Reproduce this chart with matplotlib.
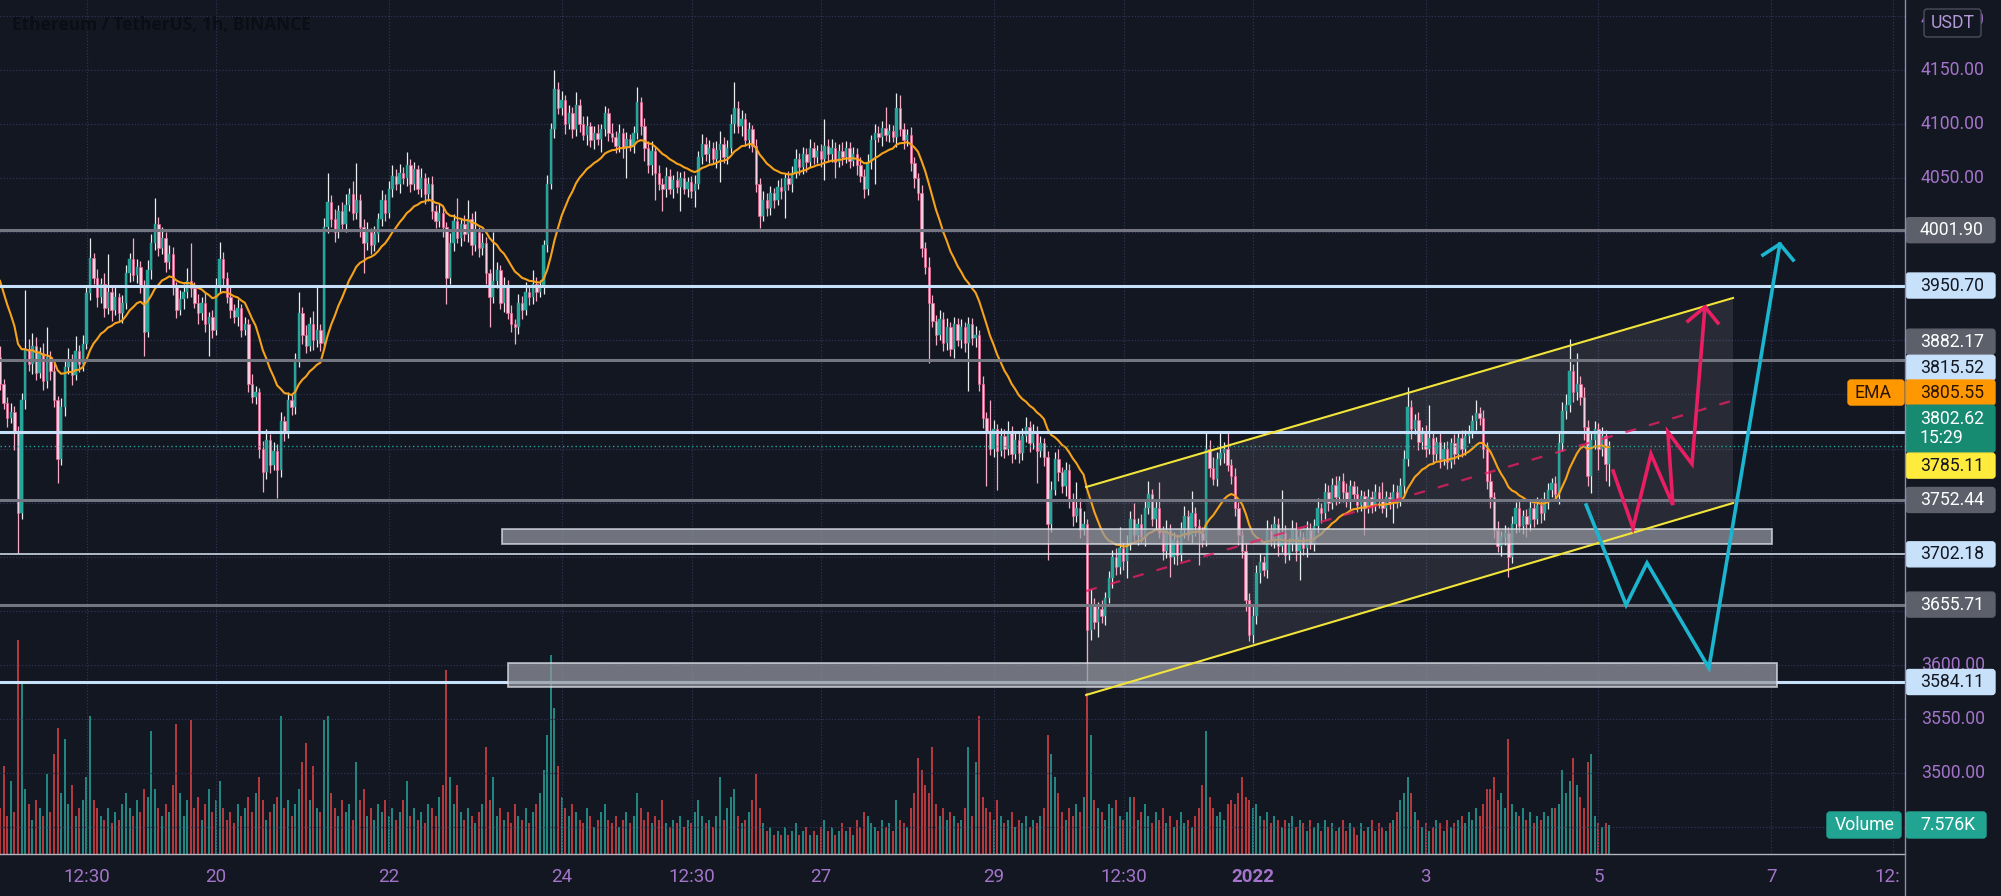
import numpy as np
import pandas as pd
import matplotlib
matplotlib.use('Agg')
import matplotlib.pyplot as plt
from matplotlib.patches import Rectangle, Polygon, FancyBboxPatch
from matplotlib.lines import Line2D
from matplotlib.transforms import IdentityTransform, blended_transform_factory

# ETHUSDT 1h candles, index 0 = Dec 17 12:00, index 60 = Dec 20 00:00
first_open = 3885
closes = [
    3860, 3842, 3828, 3834, 3814, 3740, 3845, 3892, 3878, 3895, 3870, 3888,
    3862, 3885, 3872, 3845, 3790, 3838, 3875, 3882, 3868, 3890, 3878, 3897,
    3944, 3976, 3958, 3940, 3952, 3930, 3945, 3928, 3940, 3925, 3935, 3962,
    3975, 3960, 3968, 3950, 3908, 3965, 3990, 4008, 3985, 3995, 3972, 3980,
    3950, 3928, 3938, 3945, 3955, 3948, 3935, 3925, 3935, 3915, 3922, 3910,
    3950, 3975, 3958, 3940, 3928, 3922, 3930, 3910, 3915, 3860, 3848, 3852,
    3800, 3778, 3808, 3785, 3798, 3780, 3825, 3815, 3845, 3838, 3880, 3925,
    3905, 3895, 3915, 3900, 3910, 3898, 4005, 4028, 4012, 4000, 4020, 4008,
    4025, 4035, 4018, 4030, 4005, 3990, 4000, 3988, 3998, 4012, 4030, 4018,
    4040, 4052, 4045, 4055, 4050, 4062, 4045, 4058, 4040, 4050, 4035, 4045,
    4020, 4010, 4018, 4005, 3958, 3990, 4010, 3995, 4008, 3998, 4012, 3988,
    4000, 3985, 3990, 3962, 3940, 3955, 3965, 3935, 3950, 3925, 3915, 3912,
    3935, 3928, 3945, 3940, 3952, 3945, 3950, 3988, 4045, 4095, 4132, 4115,
    4122, 4100, 4110, 4095, 4118, 4100, 4090, 4098, 4085, 4092, 4086, 4095,
    4110, 4092, 4088, 4080, 4092, 4078, 4086, 4080, 4092, 4120, 4098, 4078,
    4062, 4075, 4055, 4045, 4040, 4052, 4040, 4048, 4042, 4050, 4040, 4046,
    4038, 4045, 4070, 4082, 4072, 4078, 4068, 4076, 4082, 4070, 4078, 4100,
    4115, 4098, 4105, 4085, 4095, 4080, 4045, 4015, 4030, 4022, 4036, 4030,
    4042, 4038, 4050, 4045, 4055, 4068, 4060, 4072, 4065, 4078, 4070, 4075,
    4068, 4080, 4072, 4078, 4065, 4075, 4070, 4078, 4066, 4072, 4062, 4052,
    4040, 4065, 4085, 4092, 4088, 4096, 4090, 4094, 4088, 4115, 4095, 4085,
    4090, 4064, 4050, 4036, 3985, 3968, 3935, 3918, 3905, 3920, 3898, 3912,
    3892, 3915, 3900, 3912, 3898, 3915, 3902, 3905, 3860, 3828, 3815, 3800,
    3818, 3798, 3812, 3800, 3816, 3795, 3808, 3796, 3812, 3820, 3805, 3815,
    3798, 3805, 3792, 3730, 3762, 3790, 3778, 3765, 3780, 3752, 3738, 3745,
    3725, 3730, 3632, 3655, 3640, 3652, 3645, 3662, 3680, 3700, 3690, 3708,
    3696, 3712, 3735, 3720, 3730, 3718, 3745, 3758, 3735, 3745, 3722, 3705,
    3725, 3700, 3715, 3702, 3725, 3738, 3720, 3740, 3728, 3722, 3715, 3800,
    3782, 3772, 3790, 3796, 3800, 3785, 3775, 3745, 3720, 3705, 3660, 3628,
    3645, 3685, 3695, 3688, 3725, 3715, 3730, 3710, 3722, 3702, 3712, 3726,
    3705, 3718, 3708, 3725, 3712, 3728, 3745, 3740, 3760, 3750, 3766, 3755,
    3770, 3760, 3752, 3765, 3758, 3748, 3756, 3745, 3755, 3748, 3760, 3752,
    3745, 3755, 3750, 3760, 3752, 3765, 3790, 3838, 3818, 3826, 3806, 3815,
    3800, 3810, 3795, 3806, 3790, 3800, 3788, 3805, 3795, 3810, 3800, 3812,
    3815, 3825, 3833, 3828, 3800, 3770, 3755, 3725, 3710, 3718, 3722, 3700,
    3730, 3745, 3728, 3738, 3730, 3745, 3735, 3748, 3740, 3752, 3762, 3768,
    3758, 3805, 3835, 3840, 3872, 3852, 3860, 3848, 3820, 3775, 3808, 3818,
    3800, 3812, 3786, 3802.62,
]
# wick lengths above / below the body (USDT)
wick_up = [
    10, 4, 6, 8, 5, 7, 6, 55, 9, 12, 8, 6, 10, 27, 5, 7, 4, 9, 6, 11, 5, 14, 6, 8,
    7, 19, 5, 8, 6, 10, 35, 5, 9, 4, 7, 8, 6, 20, 7, 5, 6, 9, 8, 24, 6, 10, 5, 8,
    6, 4, 9, 7, 12, 35, 6, 8, 5, 9, 4, 6, 8, 16, 7, 5, 9, 6, 8, 4, 7, 5, 9, 6,
    4, 7, 10, 5, 8, 6, 9, 5, 7, 6, 8, 20, 6, 9, 7, 12, 40, 5, 8, 27, 6, 9, 5, 8,
    10, 6, 12, 34, 5, 7, 9, 4, 8, 6, 9, 5, 7, 10, 6, 8, 5, 12, 6, 7, 4, 9, 5, 6,
    7, 5, 8, 6, 4, 9, 7, 22, 5, 8, 18, 6, 20, 5, 9, 6, 4, 45, 7, 5, 9, 6, 8, 5,
    8, 6, 9, 5, 13, 7, 6, 5, 8, 6, 18, 7, 9, 5, 8, 6, 12, 5, 7, 9, 4, 6, 8, 5,
    7, 5, 9, 6, 8, 4, 7, 5, 6, 14, 5, 8, 6, 9, 4, 7, 5, 8, 6, 5, 9, 6, 7, 5,
    6, 8, 5, 9, 6, 7, 5, 8, 12, 6, 7, 9, 24, 6, 8, 5, 7, 4, 6, 5, 8, 6, 7, 5,
    6, 8, 5, 7, 6, 9, 5, 7, 6, 8, 5, 6, 7, 25, 6, 8, 5, 7, 8, 6, 5, 7, 6, 8,
    6, 7, 5, 8, 6, 7, 20, 6, 5, 14, 12, 6, 5, 7, 6, 5, 8, 6, 9, 7, 5, 8, 6, 9,
    5, 7, 6, 8, 5, 7, 6, 8, 5, 7, 6, 30, 8, 5, 7, 6, 9, 5, 8, 6, 7, 9, 5, 8,
    6, 7, 5, 6, 8, 7, 10, 5, 8, 6, 7, 24, 9, 12, 5, 15, 7, 6, 8, 5, 7, 6, 8, 19,
    6, 8, 7, 15, 6, 9, 7, 12, 5, 8, 24, 6, 9, 5, 8, 6, 7, 9, 5, 21, 6, 7, 5, 15,
    8, 10, 7, 19, 6, 14, 5, 7, 6, 5, 8, 6, 9, 7, 8, 6, 9, 5, 8, 6, 40, 7, 5, 8,
    6, 7, 5, 8, 6, 7, 9, 5, 8, 6, 7, 9, 5, 7, 8, 6, 5, 7, 6, 5, 8, 6, 7, 5,
    17, 6, 5, 7, 6, 8, 9, 19, 7, 6, 8, 5, 7, 30, 6, 5, 8, 6, 7, 5, 8, 6, 7, 5,
    7, 6, 12, 5, 8, 6, 7, 5, 8, 6, 7, 5, 8, 6, 7, 5, 6, 8, 5, 7, 6, 8, 6, 5,
    7, 9, 8, 10, 29, 6, 28, 7, 9, 6, 8, 7, 6, 8, 5, 4,
]
wick_dn = [
    6, 5, 8, 4, 15, 37, 5, 8, 6, 9, 7, 5, 8, 6, 9, 7, 22, 5, 8, 6, 9, 5, 7, 6,
    5, 7, 6, 9, 5, 8, 6, 10, 5, 7, 9, 6, 8, 5, 7, 6, 22, 5, 8, 6, 7, 5, 9, 6,
    8, 7, 5, 9, 6, 8, 5, 10, 6, 7, 29, 8, 5, 6, 8, 5, 7, 6, 9, 7, 5, 8, 6, 7,
    9, 18, 6, 8, 5, 26, 6, 8, 5, 7, 6, 5, 8, 7, 5, 9, 6, 8, 5, 6, 7, 9, 5, 6,
    8, 5, 7, 6, 9, 28, 6, 8, 5, 7, 6, 8, 5, 7, 6, 9, 5, 7, 8, 6, 5, 7, 9, 6,
    8, 6, 5, 9, 24, 6, 7, 5, 8, 6, 7, 9, 5, 8, 6, 10, 28, 5, 7, 6, 9, 5, 7, 15,
    6, 8, 5, 7, 6, 9, 5, 7, 6, 5, 8, 6, 7, 9, 5, 8, 6, 7, 5, 9, 6, 8, 5, 12,
    6, 8, 5, 7, 6, 9, 28, 5, 7, 6, 8, 12, 7, 9, 25, 6, 20, 7, 5, 8, 6, 22, 5, 7,
    6, 15, 5, 7, 6, 8, 5, 9, 30, 6, 7, 5, 8, 6, 9, 5, 7, 6, 8, 11, 5, 7, 6, 8,
    5, 7, 25, 6, 8, 5, 7, 6, 9, 5, 7, 6, 8, 20, 6, 7, 15, 5, 8, 6, 7, 5, 9, 6,
    8, 6, 7, 40, 5, 8, 6, 7, 5, 9, 6, 8, 5, 7, 9, 6, 8, 7, 56, 6, 9, 5, 8, 7,
    6, 8, 5, 7, 9, 45, 6, 8, 7, 9, 50, 6, 8, 36, 5, 9, 6, 8, 5, 9, 7, 6, 8, 5,
    30, 6, 8, 33, 7, 5, 8, 6, 9, 7, 10, 6, 8, 5, 48, 9, 7, 14, 6, 8, 5, 9, 7, 6,
    8, 16, 6, 7, 9, 5, 8, 6, 7, 9, 5, 8, 6, 19, 7, 10, 6, 8, 5, 7, 9, 30, 6, 5,
    8, 6, 7, 5, 9, 6, 8, 7, 9, 6, 10, 6, 8, 7, 9, 6, 8, 5, 7, 9, 6, 8, 5, 7,
    9, 27, 6, 8, 5, 7, 6, 9, 5, 8, 6, 7, 5, 9, 6, 8, 5, 7, 6, 25, 5, 8, 6, 7,
    5, 8, 6, 19, 7, 5, 8, 6, 9, 5, 7, 6, 8, 5, 9, 6, 8, 5, 7, 6, 9, 5, 8, 6,
    7, 5, 8, 6, 9, 7, 10, 8, 6, 9, 7, 19, 6, 8, 5, 7, 12, 6, 8, 5, 9, 6, 8, 7,
    6, 9, 7, 8, 6, 9, 7, 8, 12, 10, 16, 8, 20, 7, 16, 21,
]
# volume in thousands of ETH
volume_k = [
    12, 23, 10, 19, 11, 56, 45, 17, 13, 9, 14, 12, 10, 21, 11, 26, 33, 16, 30, 13, 18, 10, 12, 14,
    20, 36, 14, 12, 10, 9, 12, 8, 11, 9, 13, 16, 12, 10, 14, 11, 17, 15, 32, 17, 12, 10, 13, 11,
    18, 34, 16, 10, 14, 35, 12, 15, 9, 13, 17, 11, 14, 19, 12, 9, 11, 8, 13, 10, 12, 15, 11, 16,
    20, 14, 9, 11, 13, 15, 36, 12, 14, 10, 13, 17, 24, 29, 14, 23, 12, 11, 35, 36, 16, 12, 10, 14,
    11, 13, 9, 24, 14, 17, 10, 12, 9, 13, 11, 14, 10, 12, 9, 11, 14, 19, 10, 12, 9, 11, 8, 13,
    12, 10, 15, 18, 48, 20, 13, 18, 11, 9, 12, 10, 8, 11, 13, 28, 14, 20, 10, 12, 9, 11, 8, 13,
    10, 9, 12, 8, 11, 13, 16, 22, 31, 52, 38, 23, 15, 12, 10, 13, 11, 9, 8, 12, 10, 7, 9, 11,
    13, 9, 8, 10, 7, 9, 11, 8, 10, 16, 12, 9, 11, 8, 10, 9, 14, 8, 7, 9, 8, 10, 7, 9,
    8, 11, 14, 10, 8, 9, 7, 10, 20, 9, 12, 15, 17, 10, 8, 9, 11, 14, 21, 12, 8, 6, 7, 5,
    6, 5, 7, 5, 6, 8, 5, 6, 7, 5, 6, 5, 7, 9, 6, 7, 5, 6, 8, 6, 7, 5, 9, 7,
    11, 10, 8, 7, 6, 9, 7, 8, 6, 14, 9, 8, 7, 12, 16, 25, 22, 18, 16, 28, 13, 10, 12, 9,
    11, 10, 8, 9, 12, 28, 10, 24, 36, 15, 12, 11, 9, 14, 10, 8, 9, 11, 7, 9, 8, 10, 7, 9,
    8, 10, 12, 31, 26, 20, 16, 11, 9, 12, 10, 13, 11, 15, 42, 31, 14, 12, 11, 9, 13, 12, 14, 10,
    9, 11, 15, 15, 9, 11, 13, 10, 8, 11, 9, 12, 8, 10, 7, 9, 11, 8, 9, 7, 10, 12, 18, 32,
    15, 12, 10, 11, 9, 13, 14, 13, 16, 20, 15, 14, 12, 13, 10, 9, 11, 8, 10, 9, 7, 9, 8, 10,
    7, 9, 8, 6, 9, 7, 8, 6, 9, 7, 8, 6, 7, 9, 6, 8, 7, 5, 8, 6, 7, 9, 6, 8,
    7, 6, 8, 9, 11, 14, 16, 20, 16, 11, 9, 7, 8, 6, 7, 9, 8, 6, 9, 7, 8, 9, 10, 8,
    11, 9, 12, 10, 13, 17, 17, 20, 14, 16, 12, 30, 13, 11, 10, 12, 9, 11, 8, 10, 9, 11, 10, 12,
    12, 13, 22, 16, 19, 25, 18, 15, 12, 24, 26, 10, 8, 7, 8, 7.576,
]

ema_seed = 3965
ema_span = 20

gray_levels = [4001.90, 3882.17, 3752.44, 3655.71]
blue_levels = [3950.70, 3815.52, 3584.11]
thin_level = 3702.18
last_price = 3802.62
ema_value = 3805.55
yellow_value = 3785.11

zone_upper_t = [139.4, 492.2]
zone_upper_p = [3711.7, 3726.0]
zone_lower_t = [141.1, 493.6]
zone_lower_p = [3579.5, 3601.5]

chan_t = [301.7, 481.4]
chan_top = [3764.4, 3939.2]
chan_bot = [3572.1, 3749.6]

pink_t = [448.1, 453.6, 458.6, 464.7, 463.3, 470.0, 473.6]
pink_p = [3779.2, 3726.5, 3794.9, 3747.8, 3815.3, 3785.7, 3930.9]
pink_head_t = [468.9, 473.6, 477.2]
pink_head_p = [3917.9, 3930.9, 3916.1]
cyan_t = [440.6, 451.7, 457.5, 474.7, 494.4]
cyan_p = [3747.8, 3655.3, 3694.2, 3597.1, 3989.1]
cyan_head_t = [489.7, 494.4, 498.1]
cyan_head_p = [3978.9, 3989.1, 3974.3]

tick_pos = [24.2, 60, 108, 156, 192.2, 228, 276, 312.2, 348, 396, 444, 492, 525.8]
tick_lbl = ['12:30', '20', '22', '24', '12:30', '27', '29', '12:30', '2022', '3', '5', '7', '12:']
price_ticks = [4200, 4150, 4100, 4050, 3600, 3550, 3500]

# colours
BG = '#131722'
GRID = '#2f3352'
UP = '#26a69a'
DOWN_FACE = '#f6cfe0'
DOWN_EDGE = '#f06292'
VOL_UP = '#22857f'
VOL_DN = '#b3393f'
LEVEL_GRAY = '#737680'
LEVEL_BLUE = '#c8e1fa'
AXIS_TXT = '#a374c9'
BADGE_GRAY = '#5d606b'
BADGE_BLUE = '#c8e1fa'
DARK = '#131722'

plt.rcParams['font.family'] = ['Roboto', 'DejaVu Sans']

opens = [first_open] + closes[:-1]
o = np.array(opens, dtype=float)
c = np.array(closes, dtype=float)
hi = np.maximum(o, c) + np.array(wick_up)
lo = np.minimum(o, c) - np.array(wick_dn)
t = np.arange(len(c))
up = c >= o
ema = pd.Series([ema_seed] + closes).ewm(span=ema_span, adjust=False).mean().values[1:]

W, H = 2001, 896
fig = plt.figure(figsize=(W / 100, H / 100), dpi=100, facecolor=BG)
rect = [0, 42 / H, 1905 / W, 854 / H]
axv = fig.add_axes(rect)
ax = fig.add_axes(rect, sharex=axv)
axv.set_zorder(0)
ax.set_zorder(1)
axv.set_facecolor(BG)
ax.patch.set_visible(False)
for a in (ax, axv):
    for s in a.spines.values():
        s.set_visible(False)
    a.set_xticks([])
    a.set_yticks([])

ax.set_xlim(0, 1905 / 3.6)
ax.set_ylim(3425.1, 4214.7)
axv.set_ylim(0, 854 / 3.83)

# volume
axv.bar(t, volume_k, width=0.55, color=np.where(up, VOL_UP, VOL_DN), linewidth=0)

# grid
for p in range(3450, 4201, 50):
    ax.axhline(p, color=GRID, lw=0.9, ls=(0, (1, 1.5)), zorder=0)
for x in tick_pos:
    ax.axvline(x, color=GRID, lw=0.9, ls=(0, (1, 1.5)), zorder=0)

# channel
ax.add_patch(Polygon([(chan_t[0], chan_bot[0]), (chan_t[0], chan_top[0]),
                      (chan_t[1], chan_top[1]), (chan_t[1], chan_bot[1])],
                     closed=True, facecolor='white', alpha=0.09, lw=0, zorder=1))

# candles
ax.vlines(t[up], lo[up], hi[up], colors='#e6eeee', lw=0.9, zorder=3)
ax.vlines(t[~up], lo[~up], hi[~up], colors='#f8a9c4', lw=0.9, zorder=3)
body_h = np.maximum(np.abs(c - o), 0.8)
ax.bar(t[up], body_h[up], bottom=np.minimum(o, c)[up], width=0.62,
       color=UP, edgecolor=UP, lw=0.3, zorder=4)
ax.bar(t[~up], body_h[~up], bottom=np.minimum(o, c)[~up], width=0.62,
       color=DOWN_FACE, edgecolor=DOWN_EDGE, lw=0.5, zorder=4)
ax.plot(t, ema, color='#f7a21b', lw=1.5, zorder=5)

# levels
for p in gray_levels:
    ax.axhline(p, color=LEVEL_GRAY, lw=2.2, zorder=6)
for p in blue_levels:
    ax.axhline(p, color=LEVEL_BLUE, lw=2.2, zorder=6)
ax.axhline(thin_level, color='#dde9f6', lw=1.1, zorder=6)
ax.axhline(last_price, color=UP, lw=1.0, ls=(0, (1, 2)), zorder=6)

# zones
for (t0, t1), (p0, p1) in [(zone_upper_t, zone_upper_p), (zone_lower_t, zone_lower_p)]:
    ax.add_patch(Rectangle((t0, p0), t1 - t0, p1 - p0, facecolor='#9598a1',
                           alpha=0.72, edgecolor='#e3e6ee', lw=1.3, zorder=7))

# channel lines
ax.plot(chan_t, chan_top, color='#f2e43a', lw=1.5, zorder=8)
ax.plot(chan_t, chan_bot, color='#f2e43a', lw=1.5, zorder=8)
ax.plot(chan_t, [(a + b) / 2 for a, b in zip(chan_top, chan_bot)],
        color='#e91e63', lw=1.6, alpha=0.8, ls=(0, (5, 6)), zorder=8)

# projected paths
ax.plot(pink_t, pink_p, color='#e91e63', lw=2.6, zorder=9, solid_joinstyle='miter')
ax.plot(pink_head_t, pink_head_p, color='#e91e63', lw=2.6, zorder=9)
ax.plot(cyan_t, cyan_p, color='#1cb5cf', lw=2.6, zorder=9, solid_joinstyle='miter')
ax.plot(cyan_head_t, cyan_head_p, color='#1cb5cf', lw=2.6, zorder=9)

# frame lines
ID = IdentityTransform()
fig.add_artist(Line2D([0, 1905], [42, 42], transform=ID, color='#b2b5be', lw=1, zorder=12))
fig.add_artist(Line2D([1905, 1905], [0, H], transform=ID, color='#8a8eab', lw=1, zorder=12))

# title
fig.text(12, H - 25, 'Ethereum / TetherUS, 1h, BINANCE', transform=ID, color='#0b0e14',
         fontsize=12.5, fontweight='bold', family=['Open Sans', 'DejaVu Sans'], va='center')

# time axis
xt = blended_transform_factory(ax.transData, ID)
for x, s in zip(tick_pos, tick_lbl):
    ha = 'right' if s == '12:' else 'center'
    xx = x + 2.1 if s == '12:' else x
    fig.text(xx, 19, s, transform=xt, color=AXIS_TXT, fontsize=13.5, ha=ha, va='center',
             fontweight='bold' if s == '2022' else 'normal')


def py(p):
    return ax.transData.transform((0, p))[1]


# plain price labels (4200.00 sits behind the USDT box, as in TradingView)
for p in price_ticks:
    fig.text(1921, py(p) - (4 if p == 4200 else 0), f'{p:.2f}', transform=ID,
             color=AXIS_TXT, fontsize=12.7, va='center', ha='left', zorder=9)


def badge(x0, x1, yc, h, bg, fg, lines, edge=None, tx=None):
    fig.add_artist(FancyBboxPatch((x0, yc - h / 2), x1 - x0, h,
                                  boxstyle='round,pad=0,rounding_size=3', transform=ID,
                                  facecolor=bg, edgecolor=edge or bg, lw=1, zorder=10))
    n = len(lines)
    for k, s in enumerate(lines):
        fig.text(tx if tx else x0 + 14, yc + (n - 1) * 9.5 - k * 19, s, transform=ID,
                 color=fg, fontsize=12.7, va='center', ha='left', zorder=11)


badge(1924, 1981, H - 23, 28, BG, '#b49ad8', ['USDT'], edge='#4b4f5b', tx=1931)
badges = [
    (4001.90, 0, ['4001.90'], BADGE_GRAY, 'white'),
    (3950.70, 0, ['3950.70'], BADGE_BLUE, DARK),
    (3882.17, -18, ['3882.17'], BADGE_GRAY, 'white'),
    (3815.52, -64, ['3815.52'], BADGE_BLUE, DARK),
    (ema_value, -50, [f'{ema_value:.2f}'], '#ff9800', '#2b1400'),
    (last_price, -17, [f'{last_price:.2f}', '15:29'], '#178a72', 'white'),
    (yellow_value, 1, [f'{yellow_value:.2f}'], '#ffeb3b', DARK),
    (3752.44, 0, ['3752.44'], BADGE_GRAY, 'white'),
    (3702.18, 0, ['3702.18'], BADGE_BLUE, DARK),
    (3655.71, 0, ['3655.71'], BADGE_GRAY, 'white'),
    (3584.11, 0, ['3584.11'], BADGE_BLUE, DARK),
]
for p, off, lines, bg, fg in badges:
    h = 25 if len(lines) == 1 else 47
    badge(1906, 1995, py(p) - off, h, bg, fg, lines)

badge(1848, 1904, py(ema_value) + 50, 25, '#ff9800', '#2b1400', ['EMA'], tx=1855)
badge(1827, 1901, H - 825, 26, '#22a493', 'white', ['Volume'], tx=1835)
badge(1906, 1986, H - 825, 26, '#22a493', 'white', ['7.576K'])

fig.savefig('out.png', dpi=100, facecolor=BG)
